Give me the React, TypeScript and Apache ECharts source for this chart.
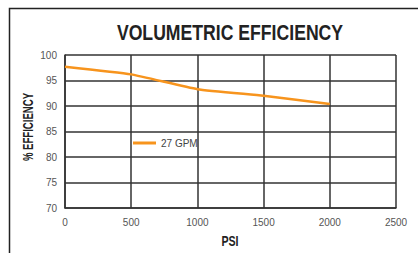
import React, { useEffect, useRef } from "react";
import * as echarts from "echarts";

const psi = [0, 500, 1000, 1500, 2000];
const efficiency27 = [97.7, 96.2, 93.3, 92.0, 90.4];
const seriesName = "27 GPM";
const titleText = "VOLUMETRIC EFFICIENCY";
const xName = "PSI";
const yName = "% EFFICIENCY";

const FONT = "'Liberation Sans', Arial, sans-serif";

export default function App() {
  const ref = useRef<HTMLDivElement>(null);
  useEffect(() => {
    if (!ref.current) return;
    const chart = echarts.init(ref.current, null, { renderer: "svg" });
    chart.setOption({
      animation: false,
      backgroundColor: "#ffffff",
      textStyle: { fontFamily: FONT },
      grid: { left: 65, right: 22, top: 55, bottom: 45 },
      legend: {
        left: 128,
        top: 133,
        itemWidth: 23,
        itemHeight: 3,
        itemGap: 6,
        icon: "rect",
        data: [{ name: seriesName, icon: "rect" }],
        textStyle: { fontFamily: FONT, fontSize: 10, color: "#444" },
      },
      graphic: [
        {
          type: "polyline",
          shape: { points: [[9.5, 260], [9.5, 8.5], [430, 8.5]] },
          style: { stroke: "#222", lineWidth: 1.5, fill: "none" },
          silent: true,
        },
        {
          type: "text",
          x: 230,
          y: 32.5,
          scaleX: 0.82,
          style: {
            text: titleText,
            fontFamily: FONT,
            fontWeight: "bold",
            fontSize: 21.5,
            fill: "#222",
            align: "center",
            verticalAlign: "middle",
          },
        },
        {
          type: "text",
          x: 230,
          y: 241,
          scaleX: 0.76,
          style: {
            text: xName,
            fontFamily: FONT,
            fontWeight: "bold",
            fontSize: 14,
            fill: "#222",
            align: "center",
            verticalAlign: "middle",
          },
        },
        {
          type: "text",
          x: 28.5,
          y: 127,
          rotation: Math.PI / 2,
          scaleX: 0.64,
          style: {
            text: yName,
            fontFamily: FONT,
            fontWeight: "bold",
            fontSize: 15,
            fill: "#222",
            align: "center",
            verticalAlign: "middle",
          },
        },
      ],
      xAxis: {
        type: "value",
        min: 0,
        max: 2500,
        interval: 500,
        axisLine: { show: true, lineStyle: { color: "#333", width: 1.5 } },
        axisTick: { show: false },
        axisLabel: {
          fontFamily: FONT,
          fontSize: 10,
          color: "#555",
          margin: 9,
          formatter: (v: number) => String(v),
        },
        splitLine: { show: true, lineStyle: { color: "#333", width: 1.5 } },
      },
      yAxis: {
        type: "value",
        min: 70,
        max: 100,
        interval: 5,
        axisLine: { show: true, lineStyle: { color: "#333", width: 1.5 } },
        axisTick: { show: false },
        axisLabel: { fontFamily: FONT, fontSize: 10, color: "#555", margin: 8 },
        splitLine: { show: true, lineStyle: { color: "#333", width: 1.5 } },
      },
      series: [
        {
          name: seriesName,
          type: "line",
          data: psi.map((p, i) => [p, efficiency27[i]]),
          showSymbol: false,
          symbol: "none",
          smooth: 0.15,
          lineStyle: { color: "#F7941D", width: 2.5 },
          itemStyle: { color: "#F7941D" },
        },
      ],
    });
    return () => chart.dispose();
  }, []);
  return (
    <div
      ref={ref}
      style={{ position: "fixed", left: 0, top: 0, width: 418, height: 253 }}
    />
  );
}
